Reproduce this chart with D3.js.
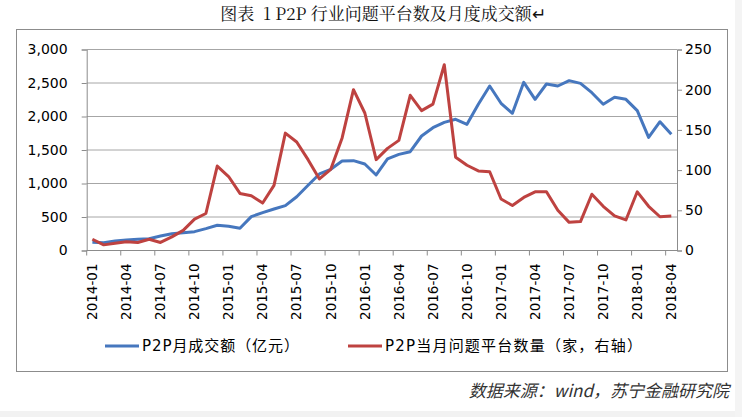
<!DOCTYPE html>
<html>
<head>
<meta charset="utf-8">
<script src="https://cdn.jsdelivr.net/npm/d3@7"></script>
<style>
  html, body { margin: 0; padding: 0; background: #ffffff; }
  svg { display: block; }
</style>
</head>
<body>
<div id="chart"></div>
<script>
// Month categories 2014-01 .. 2018-04
const months = d3.timeMonths(new Date(2014, 0, 1), new Date(2018, 4, 1)).map(d3.timeFormat("%Y-%m"));

// P2P monthly volume (亿元), left axis
const volume = [
  122, 116, 142, 157, 167, 176, 216, 251, 266, 281, 326, 376,
  361, 331, 505, 565, 619, 669, 803, 973, 1142, 1212, 1336, 1341,
  1291, 1127, 1366, 1435, 1475, 1709, 1833, 1913, 1958, 1883, 2182, 2455,
  2197, 2048, 2510, 2256, 2485, 2455, 2535, 2495, 2355, 2182, 2286, 2256,
  2087, 1689, 1922, 1734
];

// problem platforms per month (家), right axis
const problems = [
  14, 7, 9, 11, 10, 14, 10, 17, 25, 39, 46, 105,
  92, 71, 68, 59, 81, 146, 135, 113, 89, 101, 140, 200,
  171, 113, 127, 137, 193, 174, 182, 231, 116, 106, 99, 98,
  64, 56, 66, 73, 73, 50, 35, 36, 70, 55, 43, 38,
  73, 55, 42, 43
];

const leftTicks = [0, 500, 1000, 1500, 2000, 2500, 3000];
const rightTicks = [0, 50, 100, 150, 200, 250];

const seriesNames = ["P2P月成交额（亿元）", "P2P当月问题平台数量（家，右轴）"];
const colors = ["#4677be", "#be4240"];

const W = 742, H = 417;
const plot = { left: 86.7, right: 677, top: 49.5, bottom: 250.5 };
const latin = "'DejaVu Sans', 'Noto Sans CJK SC', sans-serif";

const svg = d3.select("#chart").append("svg")
  .attr("width", W)
  .attr("height", H);

// page background strips
svg.append("rect").attr("x", 0).attr("y", 411).attr("width", W).attr("height", H - 411).attr("fill", "#f2f2f2");
svg.append("rect").attr("x", 735).attr("y", 0).attr("width", W - 735).attr("height", H).attr("fill", "#f4f4f4");

// title
svg.append("text")
  .attr("x", 383)
  .attr("y", 20)
  .attr("text-anchor", "middle")
  .style("font-family", "'Noto Serif CJK SC', 'Noto Sans CJK SC', serif")
  .style("font-size", "17px")
  .style("fill", "#111")
  .attr("xml:space", "preserve")
  .text("图表  1 P2P 行业问题平台数及月度成交额↵");

// chart frame
svg.append("rect")
  .attr("x", 16.5).attr("y", 29.5)
  .attr("width", 711).attr("height", 342)
  .attr("fill", "#fff")
  .attr("stroke", "#8c8c8c");

const x = d3.scaleBand().domain(months).range([plot.left, plot.right]);
const yL = d3.scaleLinear().domain([0, 3000]).range([plot.bottom, plot.top]);
const yR = d3.scaleLinear().domain([0, 250]).range([plot.bottom, plot.top]);

// gridlines
svg.append("g")
  .selectAll("line")
  .data(leftTicks.slice(1))
  .enter().append("line")
  .attr("x1", plot.left).attr("x2", plot.right)
  .attr("y1", d => yL(d)).attr("y2", d => yL(d))
  .attr("stroke", "#a6a6a6")
  .attr("stroke-width", 1);

// left axis
const axL = svg.append("g")
  .attr("transform", `translate(${plot.left},0)`)
  .call(d3.axisLeft(yL).tickValues(leftTicks).tickFormat(d3.format(",")).tickSize(5).tickPadding(14));
axL.select(".domain").attr("stroke", "#8c8c8c");
axL.selectAll(".tick line").attr("stroke", "#8c8c8c");
axL.selectAll("text").style("font-family", latin).style("font-size", "14px").style("fill", "#000");

// right axis
const axR = svg.append("g")
  .attr("transform", `translate(${plot.right},0)`)
  .call(d3.axisRight(yR).tickValues(rightTicks).tickSize(5).tickPadding(3));
axR.select(".domain").attr("stroke", "#8c8c8c");
axR.selectAll(".tick line").attr("stroke", "#8c8c8c");
axR.selectAll("text").style("font-family", latin).style("font-size", "14px").style("fill", "#000");

// bottom axis: ticks at every third category boundary
const labelMonths = months.filter((m, i) => i % 3 === 0);
const axB = svg.append("g").attr("transform", `translate(0,${plot.bottom})`);
axB.append("line")
  .attr("x1", plot.left).attr("x2", plot.right)
  .attr("stroke", "#8c8c8c");
axB.selectAll(".tk")
  .data(labelMonths)
  .enter().append("line")
  .attr("class", "tk")
  .attr("x1", d => x(d)).attr("x2", d => x(d))
  .attr("y1", 0).attr("y2", 5)
  .attr("stroke", "#8c8c8c");
axB.selectAll(".lbl")
  .data(labelMonths)
  .enter().append("text")
  .attr("class", "lbl")
  .attr("transform", d => `translate(${x(d) + x.bandwidth() / 2},13) rotate(-90)`)
  .attr("dy", "0.35em")
  .attr("text-anchor", "end")
  .style("font-family", latin)
  .style("font-size", "13.5px")
  .style("fill", "#000")
  .text(d => d);

// lines
const cx = i => x(months[i]) + x.bandwidth() / 2;
const lineL = d3.line().x((d, i) => cx(i)).y(d => yL(d));
const lineR = d3.line().x((d, i) => cx(i)).y(d => yR(d));

svg.append("path")
  .datum(volume)
  .attr("d", lineL)
  .attr("fill", "none")
  .attr("stroke", colors[0])
  .attr("stroke-width", 3)
  .attr("stroke-linejoin", "round");

svg.append("path")
  .datum(problems)
  .attr("d", lineR)
  .attr("fill", "none")
  .attr("stroke", colors[1])
  .attr("stroke-width", 3)
  .attr("stroke-linejoin", "round");

// legend
const legendX = [105, 348];
const legendLen = [157, 257];
const legend = svg.selectAll(".legend")
  .data(seriesNames)
  .enter().append("g")
  .attr("class", "legend")
  .attr("transform", (d, i) => `translate(${legendX[i]},346)`);
legend.append("line")
  .attr("x1", 0).attr("x2", 34)
  .attr("stroke", (d, i) => colors[i])
  .attr("stroke-width", 3);
legend.append("text")
  .attr("x", 37)
  .attr("dy", "0.35em")
  .attr("textLength", (d, i) => legendLen[i])
  .attr("lengthAdjust", "spacing")
  .style("font-family", latin)
  .style("font-size", "15px")
  .style("fill", "#000")
  .text(d => d);

// source note
svg.append("text")
  .attr("x", 729)
  .attr("y", 397)
  .attr("text-anchor", "end")
  .style("font-family", "'Noto Sans CJK SC', sans-serif")
  .style("font-style", "italic")
  .style("font-size", "17px")
  .style("fill", "#333")
  .text("数据来源：wind，苏宁金融研究院");
</script>
</body>
</html>
